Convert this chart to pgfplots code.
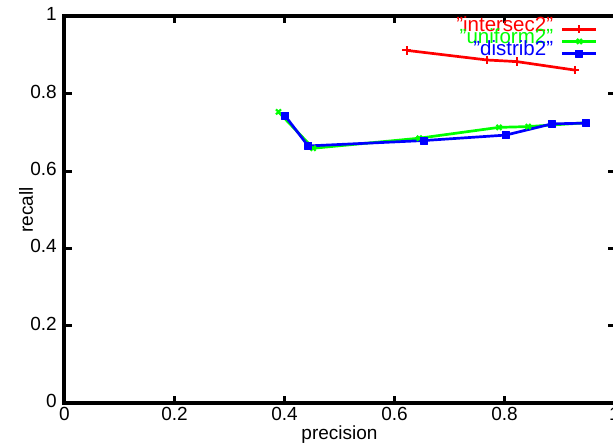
\documentclass[border=0pt]{standalone}
\usepackage{fontspec}
\setmainfont{Liberation Sans}
\usepackage{pgfplots}
\pgfplotsset{compat=1.18}

\begin{document}
\begin{tikzpicture}
\begin{axis}[
  at={(64.5pt,43.7pt)}, anchor=south west,
  scale only axis,
  width=550pt, height=387pt,
  xmin=0, xmax=1, ymin=0, ymax=1,
  xtick={0,0.2,0.4,0.6,0.8,1},
  ytick={0,0.2,0.4,0.6,0.8,1},
  /pgf/number format/assume math mode=true,
  tick label style={font=\fontsize{19}{19}\selectfont},
  xticklabel style={inner sep=0pt, anchor=north, yshift=-3.5pt},
  yticklabel style={inner sep=0pt, anchor=east, xshift=-7.5pt, yshift=2.2pt},
  axis line style={line width=4pt},
  tick align=inside,
  major tick length=7pt,
  major tick style={line width=3pt, black},
  every axis x label/.style={at={(axis description cs:0.5,0)}, anchor=center, yshift=-31pt},
  every axis y label/.style={at={(axis description cs:0,0.5)}, xshift=-38.5pt, rotate=90, anchor=center},
  label style={font=\fontsize{19}{19}\selectfont},
  xlabel={precision},
  ylabel={recall},
  legend plot pos=right,
  legend cell align=right,
  legend image code/.code={\draw[mark repeat=2,mark phase=2] plot coordinates {(0pt,0pt) (17pt,0pt) (34pt,0pt)};},
  legend style={
    draw=none, fill=none,
    at={(rel axis cs:0.9755,0.988)}, anchor=north east,
    font=\fontsize{20.5}{20.5}\selectfont,
    nodes={inner sep=0pt, text height=8pt, text depth=4.2pt},
    column sep=8pt, row sep=0pt
  },
  every axis plot/.append style={line width=2.7pt, line join=round},
]
\addplot+[red, mark=+, mark size=4.2pt, mark options={line width=2pt, solid}]
  coordinates {(0.622,0.912) (0.769,0.887) (0.822,0.883) (0.928,0.861)};
\addlegendentry{\textcolor{red}{"intersec2"}}
\addplot+[green, mark=x, mark size=3.5pt, mark options={line width=2.2pt, solid}]
  coordinates {(0.389,0.753) (0.452,0.659) (0.645,0.685) (0.790,0.713) (0.843,0.715) (0.949,0.725)};
\addlegendentry{\textcolor{green}{"uniform2"}}
\addplot+[blue, mark=square*, mark size=3.5pt, mark options={line width=1pt, solid, fill=blue}]
  coordinates {(0.401,0.743) (0.443,0.665) (0.654,0.679) (0.802,0.693) (0.886,0.722) (0.949,0.724)};
\addlegendentry{\textcolor{blue}{"distrib2"}}
\end{axis}
\pgfresetboundingbox
\useasboundingbox (0,0) rectangle (613pt,447pt);
\end{tikzpicture}
\end{document}
